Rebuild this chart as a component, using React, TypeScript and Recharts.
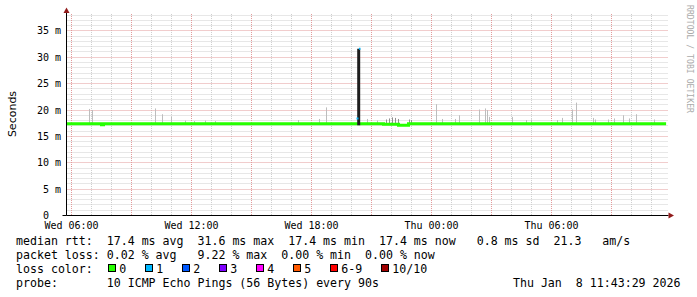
import React from "react";
import { ComposedChart, Line, XAxis, YAxis, CartesianGrid } from "recharts";

// time is counted in hours from Wed 00:00, values in milliseconds
const tickHours = [6, 12, 18, 24, 30];
const tickLabels = ["Wed 06:00", "Wed 12:00", "Wed 18:00", "Thu 00:00", "Thu 06:00"];
const yTicks = [0, 5, 10, 15, 20, 25, 30, 35];

// median rtt, loss 0 (green)
const medianHours = [5.75, 7.5, 7.6, 21.6, 22.35, 22.85, 35.73];
const medianMs = [17.4, 17.2, 17.4, 17.3, 17.1, 17.4, 17.4];

// median rtt, loss 1 (blue); null = gap
const lossHours = [20.25, 20.35, 20.355, 20.37, 20.45];
const lossMs = [18.4, 18.4, null, 31.6, 31.6];

// light smoke spikes
const smokeHours = [
  6.9, 7.05, 10.2, 10.55, 11.0, 11.7, 12.15, 12.7, 13.2, 17.35, 18.4, 18.75,
  20.8, 21.3, 24.25, 24.55, 25.2, 25.4, 26.4, 26.7, 26.8, 26.9, 28.05, 28.75,
  29.0, 30.3, 30.55, 31.05, 31.25, 32.1, 32.2, 32.85, 33.15, 33.6, 33.9, 34.25,
  35.15,
];
const smokeTopMs = [
  20.2, 20.0, 20.3, 19.2, 18.7, 18.0, 17.9, 18.0, 17.9, 18.1, 18.3, 20.5,
  18.3, 18.0, 21.1, 18.3, 18.3, 19.0, 20.1, 20.3, 20.0, 18.7, 18.7, 18.1,
  18.2, 18.1, 18.5, 20.1, 21.4, 18.5, 18.2, 18.2, 18.4, 19.0, 18.4, 19.2,
  18.2,
];
const smokeLowMs = 17.2;

// denser smoke after the peak
const denseHours = [21.75, 21.9, 22.05, 22.2, 22.35, 22.9, 23.0];
const denseTopMs = [18.2, 18.4, 18.6, 18.5, 18.3, 18.2, 18.1];

// the dense smoke at the 31.6 ms peak
const spikeHours = [20.36];
const spikeLowMs = [17.1];
const spikeHighMs = [31.6];

const lossLabels = ["0", "1", "2", "3", "4", "5", "6-9", "10/10"];
const lossColors = ["#26ff00", "#00b8ff", "#0059ff", "#7e00ff", "#ff00ff", "#ff5a00", "#ff0000", "#a00000"];

const Y_MAX = 38.2;
const X_MIN = 5.75;
const X_MAX = 35.85;

type Row = {
  t: number;
  median?: number;
  loss?: number | null;
  smoke?: number | null;
  dense?: number | null;
  spike?: number | null;
};

const rows: Row[] = [];
medianHours.forEach((t, i) => rows.push({ t, median: medianMs[i] }));
lossHours.forEach((t, i) => rows.push({ t, loss: lossMs[i] }));
smokeHours.forEach((t, i) => {
  rows.push({ t, smoke: smokeLowMs });
  rows.push({ t, smoke: smokeTopMs[i] });
  rows.push({ t, smoke: null });
});
denseHours.forEach((t, i) => {
  rows.push({ t, dense: smokeLowMs });
  rows.push({ t, dense: denseTopMs[i] });
  rows.push({ t, dense: null });
});
spikeHours.forEach((t, i) => {
  rows.push({ t, spike: spikeLowMs[i] });
  rows.push({ t, spike: spikeHighMs[i] });
  rows.push({ t, spike: null });
});
// stable sort keeps the segment order of equal times
rows.sort((a, b) => a.t - b.t);

const minorMs = Array.from({ length: 38 }, (_, i) => i + 1).filter((v) => v % 5 !== 0);
const majorMs = [5, 10, 15, 20, 25, 30, 35];
const minorHours = Array.from({ length: 30 }, (_, i) => i + 6).filter((h) => h % 3 !== 0);
const majorHours = [6, 9, 12, 15, 18, 21, 24, 27, 30, 33];

const mono = "'DejaVu Sans Mono', monospace";
const crisp = (p: number) => Math.round(p - 0.5) + 0.5;

function yGen(values: number[]) {
  return (args: any) =>
    values.map((v) => {
      const s = args.yAxis && typeof args.yAxis.scale === "function" ? args.yAxis.scale : null;
      const p = s ? s(v) : args.offset.top + args.offset.height * (1 - v / Y_MAX);
      return crisp(p);
    });
}

function xGen(values: number[]) {
  return (args: any) =>
    values.map((v) => {
      const s = args.xAxis && typeof args.xAxis.scale === "function" ? args.xAxis.scale : null;
      const p = s ? s(v) : args.offset.left + (args.offset.width * (v - X_MIN)) / (X_MAX - X_MIN);
      return crisp(p);
    });
}

const XTick = (props: any) => {
  const { x, y, payload } = props;
  const i = tickHours.indexOf(payload.value);
  return (
    <text x={x} y={y + 13} textAnchor="middle" fontFamily={mono} fontSize={10} fill="#000">
      {i >= 0 ? tickLabels[i] : ""}
    </text>
  );
};

const YTick = (props: any) => {
  const { x, y, payload } = props;
  const v = payload.value;
  return (
    <text x={v === 0 ? x - 17.5 : x - 5.5} y={y + 3.6} textAnchor="end" fontFamily={mono} fontSize={10} fill="#000">
      {v === 0 ? "0" : `${v} m`}
    </text>
  );
};

const legendRows = [
  "median rtt:  17.4 ms avg  31.6 ms max  17.4 ms min  17.4 ms now   0.8 ms sd  21.3   am/s",
  "packet loss: 0.02 % avg   9.22 % max  0.00 % min  0.00 % now",
];

export default function App() {
  let bx = 108;
  const boxes = lossLabels.map((label, i) => {
    const x = bx;
    bx += 37 + 7 * (label.length - 1);
    return (
      <g key={label}>
        <rect x={x + 0.5} y={264.5} width={7} height={7} fill={lossColors[i]} stroke="#000" strokeWidth={1} />
        <text x={x + 11.3} y={273} fontFamily={mono} fontSize={11.6} fill="#000">
          {label}
        </text>
      </g>
    );
  });

  return (
    <div style={{ position: "absolute", left: 0, top: 0, width: 697, height: 297, background: "#fff" }}>
      <ComposedChart
        width={697}
        height={297}
        data={rows}
        margin={{ top: 14, right: 28.5, bottom: 61.5, left: 0 }}
      >
        <CartesianGrid
          stroke="#cfcfcf"
          strokeDasharray="1 1"
          horizontalCoordinatesGenerator={yGen(minorMs)}
          verticalCoordinatesGenerator={xGen(minorHours)}
        />
        <CartesianGrid
          stroke="#e39b9b"
          strokeDasharray="1 1"
          horizontalCoordinatesGenerator={yGen(majorMs)}
          verticalCoordinatesGenerator={xGen(majorHours)}
        />
        <XAxis
          dataKey="t"
          type="number"
          domain={[X_MIN, X_MAX]}
          ticks={tickHours}
          allowDataOverflow
          tickLine={false}
          tickSize={0}
          tickMargin={0}
          height={20}
          axisLine={{ stroke: "#000" }}
          tick={<XTick />}
        />
        <YAxis
          type="number"
          domain={[0, Y_MAX]}
          ticks={yTicks}
          allowDataOverflow
          width={66.5}
          tickLine={false}
          tickSize={0}
          tickMargin={0}
          axisLine={{ stroke: "#000" }}
          tick={<YTick />}
        />
        <Line dataKey="smoke" type="linear" stroke="#bdbdbd" strokeWidth={1} dot={false} isAnimationActive={false} />
        <Line dataKey="dense" type="linear" stroke="#8f8f8f" strokeWidth={1} dot={false} isAnimationActive={false} />
        <Line
          dataKey="median"
          type="stepAfter"
          stroke="#26ff00"
          strokeWidth={3}
          dot={false}
          connectNulls
          isAnimationActive={false}
        />
        <Line dataKey="spike" type="linear" stroke="#1e1e1e" strokeWidth={3} dot={false} isAnimationActive={false} />
        <Line dataKey="loss" type="linear" stroke="#00b8ff" strokeWidth={2} dot={false} isAnimationActive={false} />
      </ComposedChart>
      <svg
        width={697}
        height={297}
        style={{ position: "absolute", left: 0, top: 0, pointerEvents: "none" }}
      >
        <polygon points="63.5,13 69.5,13 66.5,7.5" fill="#911b1b" />
        <line x1={66.5} y1={13} x2={66.5} y2={14} stroke="#000" />
        <line x1={62.5} y1={215.5} x2={66.5} y2={215.5} stroke="#000" />
        <polygon points="668.5,212.5 668.5,218.5 674,215.5" fill="#911b1b" />
        <text
          transform="translate(15.5,114) rotate(-90)"
          textAnchor="middle"
          fontFamily="'DejaVu Sans', sans-serif"
          fontSize={11}
          fill="#000"
        >
          Seconds
        </text>
        <text
          transform="translate(687,5) rotate(90)"
          fontFamily={mono}
          fontSize={9}
          fill="#aaaaaa"
          textLength={108}
          lengthAdjust="spacingAndGlyphs"
        >
          RRDTOOL / TOBI OETIKER
        </text>
        {legendRows.map((r, i) => (
          <text key={i} x={16} y={245 + 14 * i} fontFamily={mono} fontSize={11.6} fill="#000" style={{ whiteSpace: "pre" }}>
            {r}
          </text>
        ))}
        <text x={16} y={273} fontFamily={mono} fontSize={11.6} fill="#000">
          loss color:
        </text>
        {boxes}
        <text x={16} y={287} fontFamily={mono} fontSize={11.6} fill="#000" style={{ whiteSpace: "pre" }}>
          {"probe:       10 ICMP Echo Pings (56 Bytes) every 90s"}
        </text>
        <text x={680.5} y={287} textAnchor="end" fontFamily={mono} fontSize={11.6} fill="#000" style={{ whiteSpace: "pre" }}>
          {"Thu Jan  8 11:43:29 2026"}
        </text>
      </svg>
    </div>
  );
}
